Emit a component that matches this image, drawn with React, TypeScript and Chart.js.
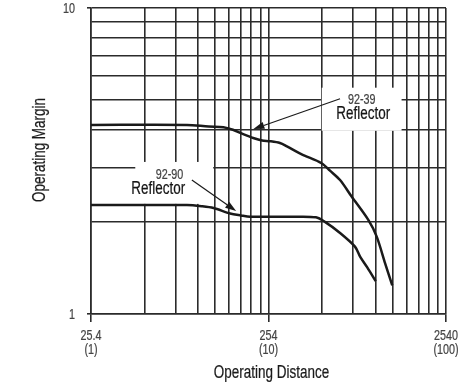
import React, { useEffect, useRef } from "react";
import { Chart, registerables } from "chart.js";

Chart.register(...registerables);

// Operating distance in inches (axis shows mm with inches in parentheses)
const dist3939: number[] = [1, 3.47, 4.6, 5.57, 6.3, 7.2, 8.2, 9.2, 10.2, 11.6, 12.7, 15.3, 19.9, 22.2, 25.3, 29.4, 36.5, 40.7, 45.3, 49.8];
const margin3939: number[] = [4.15, 4.15, 4.1, 4.08, 4.0, 3.87, 3.76, 3.69, 3.67, 3.62, 3.53, 3.33, 3.11, 2.94, 2.74, 2.42, 2.03, 1.79, 1.47, 1.24];

const dist9290: number[] = [1, 3.47, 4.2, 4.9, 6.08, 7.0, 7.88, 10, 14, 18.5, 20.8, 25.3, 30.7, 32.8, 36, 40.2];
const margin9290: number[] = [2.27, 2.27, 2.25, 2.22, 2.13, 2.1, 2.08, 2.08, 2.08, 2.07, 2.0, 1.84, 1.66, 1.54, 1.42, 1.28];

const xGridInches: number[] = [1, 2, 3, 4, 5, 6, 7, 8, 9, 10, 20, 30, 40, 50, 60, 70, 80, 90, 100];
const yGrid: number[] = [1, 2, 3, 4, 5, 6, 7, 8, 9, 10];
const xTickValues: number[] = [1, 10, 100];
const xTickMm: string[] = ["25.4", "254", "2540"];
const xTickIn: string[] = ["(1)", "(10)", "(100)"];
const yTickValues: number[] = [1, 10];
const yTickText: string[] = ["1", "10"];

const xTitle = "Operating Distance";
const yTitle = "Operating Margin";

// Callouts in data coordinates (inches, margin)
const callouts = [
  {
    code: "92-39",
    name: "Reflector",
    box: [19.95, 56.2, 3.97, 5.49],
    codeAt: [33.5, 5.01],
    nameAt: [34.2, 4.5],
    arrowFrom: [25.3, 5.05],
    arrowTo: [8.22, 4.02],
  },
  {
    code: "92-90",
    name: "Reflector",
    box: [1.776, 4.88, 2.29, 3.14],
    codeAt: [2.77, 2.85],
    nameAt: [2.39, 2.56],
    arrowFrom: [3.7, 2.74],
    arrowTo: [6.57, 2.17],
  },
];

const FONT = "'Liberation Sans', Arimo, Roboto, sans-serif";
const GRID = "#2b2b2b";
const INK = "#1a1a1a";
const NARROW = 0.77;

function narrowText(ctx: CanvasRenderingContext2D, text: string, x: number, y: number, size: number, color: string, align: CanvasTextAlign, rotate = 0) {
  ctx.save();
  ctx.translate(x, y);
  if (rotate) ctx.rotate(rotate);
  ctx.scale(NARROW, 1);
  ctx.font = `${size}px ${FONT}`;
  ctx.fillStyle = color;
  ctx.strokeStyle = color;
  ctx.lineWidth = 0.22;
  ctx.textAlign = align;
  ctx.textBaseline = "middle";
  ctx.fillText(text, 0, 0);
  ctx.strokeText(text, 0, 0);
  ctx.restore();
}

export default function App() {
  const ref = useRef<HTMLCanvasElement | null>(null);

  useEffect(() => {
    if (!ref.current) return;

    const annot = {
      id: "annot",
      beforeDatasetsDraw(chart: any) {
        const { ctx, scales } = chart;
        const x = scales.x, y = scales.y;
        ctx.save();
        ctx.fillStyle = "#ffffff";
        for (const c of callouts) {
          const x0 = x.getPixelForValue(c.box[0]);
          const x1 = x.getPixelForValue(c.box[1]);
          const y0 = y.getPixelForValue(c.box[3]);
          const y1 = y.getPixelForValue(c.box[2]);
          ctx.fillRect(x0, y0, x1 - x0, y1 - y0);
        }
        ctx.restore();
      },
      afterDatasetsDraw(chart: any) {
        const { ctx, scales } = chart;
        const x = scales.x, y = scales.y;
        ctx.save();
        for (const c of callouts) {
          const fx = x.getPixelForValue(c.arrowFrom[0]);
          const fy = y.getPixelForValue(c.arrowFrom[1]);
          const tx = x.getPixelForValue(c.arrowTo[0]);
          const ty = y.getPixelForValue(c.arrowTo[1]);
          const ang = Math.atan2(ty - fy, tx - fx);
          const headLen = 11;
          const headW = 3.6;
          const bx = tx - headLen * Math.cos(ang);
          const by = ty - headLen * Math.sin(ang);
          ctx.strokeStyle = INK;
          ctx.lineWidth = 1.2;
          ctx.beginPath();
          ctx.moveTo(fx, fy);
          ctx.lineTo(bx, by);
          ctx.stroke();
          ctx.fillStyle = INK;
          ctx.beginPath();
          ctx.moveTo(tx, ty);
          ctx.lineTo(bx + headW * Math.sin(ang), by - headW * Math.cos(ang));
          ctx.lineTo(bx - headW * Math.sin(ang), by + headW * Math.cos(ang));
          ctx.closePath();
          ctx.fill();

          narrowText(ctx, c.code, x.getPixelForValue(c.codeAt[0]), y.getPixelForValue(c.codeAt[1]), 14, "#444444", "center");
          narrowText(ctx, c.name, x.getPixelForValue(c.nameAt[0]), y.getPixelForValue(c.nameAt[1]), 17.5, "#151515", "center");
        }
        ctx.restore();
      },
      afterDraw(chart: any) {
        const { ctx, chartArea, scales } = chart;
        const x = scales.x, y = scales.y;
        xTickValues.forEach((v, i) => {
          const px = x.getPixelForValue(v);
          narrowText(ctx, xTickMm[i], px, chartArea.bottom + 22.5, 14, "#444444", "center");
          narrowText(ctx, xTickIn[i], px, chartArea.bottom + 36, 14, "#444444", "center");
        });
        yTickValues.forEach((v, i) => {
          const py = y.getPixelForValue(v);
          narrowText(ctx, yTickText[i], chartArea.left - 16, py + 1, 14, "#444444", "right");
        });
        narrowText(ctx, xTitle, (chartArea.left + chartArea.right) / 2 + 3, 373, 17.5, "#1a1a1a", "center");
        narrowText(ctx, yTitle, 40, (chartArea.top + chartArea.bottom) / 2 - 11, 17.5, "#1a1a1a", "center", -Math.PI / 2);
      },
    };

    const chart = new Chart(ref.current, {
      type: "line",
      data: {
        datasets: [
          {
            label: "92-39 Reflector",
            data: dist3939.map((d, i) => ({ x: d, y: margin3939[i] })),
            borderColor: INK,
            borderWidth: 2.5,
            pointRadius: 0,
            tension: 0.3,
            fill: false,
          },
          {
            label: "92-90 Reflector",
            data: dist9290.map((d, i) => ({ x: d, y: margin9290[i] })),
            borderColor: INK,
            borderWidth: 2.5,
            pointRadius: 0,
            tension: 0.3,
            fill: false,
          },
        ],
      },
      options: {
        responsive: false,
        animation: false,
        devicePixelRatio: 1,
        layout: { padding: { top: 8, right: 30, left: 0, bottom: 0 } },
        plugins: {
          legend: { display: false },
          tooltip: { enabled: false },
          title: { display: false },
        },
        scales: {
          x: {
            type: "logarithmic",
            min: 1,
            max: 100,
            afterBuildTicks: (scale: any) => {
              scale.ticks = xGridInches.map((v) => ({ value: v }));
            },
            afterFit: (scale: any) => {
              scale.height = 72;
            },
            ticks: { display: false, autoSkip: false, padding: 0 },
            grid: {
              color: GRID,
              lineWidth: 1.6,
              drawTicks: true,
              tickLength: 8,
              tickColor: (ctx: any) => (ctx.tick && xTickValues.includes(ctx.tick.value) ? GRID : "rgba(0,0,0,0)"),
            },
            border: { display: true, color: GRID, width: 1.6 },
          },
          y: {
            type: "logarithmic",
            min: 1,
            max: 10,
            afterBuildTicks: (scale: any) => {
              scale.ticks = yGrid.map((v) => ({ value: v }));
            },
            afterFit: (scale: any) => {
              scale.width = 91;
            },
            ticks: { display: false, autoSkip: false, padding: 0 },
            grid: {
              color: GRID,
              lineWidth: 1.6,
              drawTicks: true,
              tickLength: 4,
              tickColor: (ctx: any) => (ctx.tick && yTickValues.includes(ctx.tick.value) ? GRID : "rgba(0,0,0,0)"),
            },
            border: { display: true, color: GRID, width: 1.6 },
          },
        },
      },
      plugins: [annot],
    } as any);

    return () => chart.destroy();
  }, []);

  return (
    <div style={{ position: "fixed", left: 0, top: 0, width: 476, height: 386, background: "#fff" }}>
      <canvas ref={ref} width={476} height={386} style={{ display: "block" }} />
    </div>
  );
}
